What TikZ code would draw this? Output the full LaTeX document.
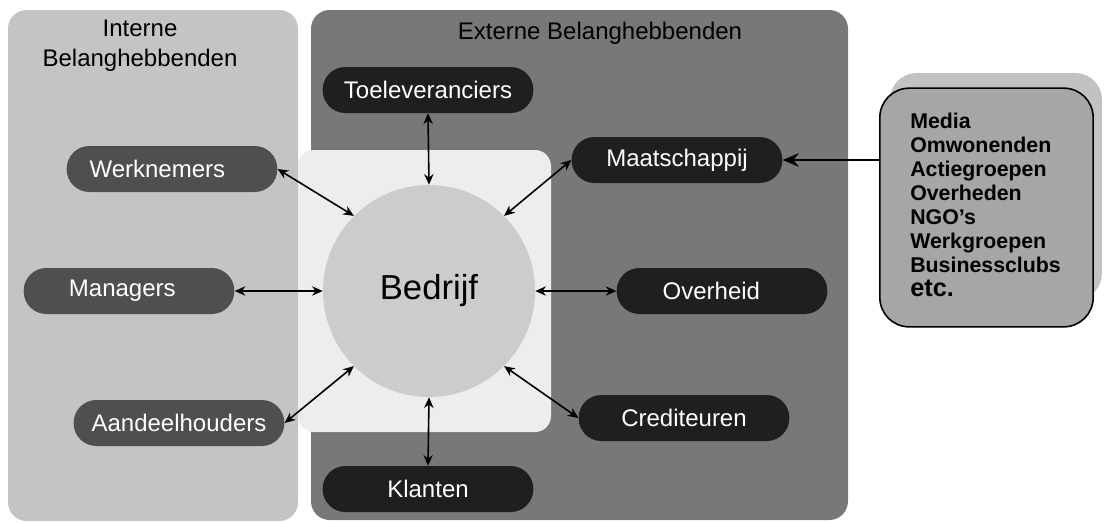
\documentclass[tikz,border=0pt]{standalone}
\usepackage{fontspec}
\setmainfont{Liberation Sans}
\usetikzlibrary{arrows.meta}
\definecolor{intpanel}{gray}{0.77}
\definecolor{extpanel}{gray}{0.47}
\definecolor{innerbg}{gray}{0.93}
\definecolor{circfill}{gray}{0.80}
\definecolor{intpill}{gray}{0.31}
\definecolor{extpill}{gray}{0.12}
\definecolor{mediafill}{gray}{0.65}
\definecolor{mediashadow}{gray}{0.76}
\tikzset{
  pill/.style={rectangle, rounded corners=17pt, minimum width=158pt, minimum height=34.5pt,
    text=white, font=\fontsize{18}{20}\selectfont, inner sep=0pt},
  intp/.style={pill, fill=intpill},
  extp/.style={pill, fill=extpill},
  title/.style={font=\fontsize{18}{22.5}\selectfont, align=center, text=black},
  conn/.style={{Stealth[length=8pt,width=7pt]}-{Stealth[length=8pt,width=7pt]}, line width=1.2pt, black},
  bigconn/.style={-{Stealth[length=12pt,width=10pt]}, line width=2.2pt, black},
}
\begin{document}
\begin{tikzpicture}[x=0.75pt,y=-0.75pt]
\useasboundingbox (0,0) rectangle (1106,522);
% panels
\fill[intpanel, rounded corners=14pt] (8,10) rectangle (298,521);
\fill[extpanel, rounded corners=14pt] (311,10) rectangle (848,520);
\fill[innerbg, rounded corners=12pt] (298,150) rectangle (551,432);
\node[circle, fill=circfill, minimum size=159pt, inner sep=0pt, font=\fontsize{26}{30}\selectfont] (bedrijf) at (429,291) {Bedrijf};
% titles
\node[title] (tint) at (140,46) {Interne\\Belanghebbenden};
\node[title] (text) at (600,33) {Externe Belanghebbenden};
% pills
\node[extp] (toe) at (428,90) {Toeleveranciers};
\node[intp] (werk) at (172,169) {Werknemers\kern 22pt};
\node[intp] (man) at (129,291) {Managers\kern 10pt};
\node[intp] (aan) at (179,423) {Aandeelhouders};
\node[extp] (kla) at (428,489) {Klanten};
\node[extp] (maat) at (677,160) {Maatschappij};
\node[extp] (over) at (722,291) {Overheid\kern 16pt};
\node[extp] (cred) at (684,418) {Crediteuren};
% connectors
\draw[conn] (toe.south) -- (bedrijf.north);
\draw[conn] (werk.east) -- (bedrijf.135);
\draw[conn] (man.east) -- (bedrijf.west);
\draw[conn] (aan.east) -- (bedrijf.-135);
\draw[conn] (kla.north) -- (bedrijf.south);
\draw[conn] (maat.west) -- (bedrijf.45);
\draw[conn] (over.west) -- (bedrijf.east);
\draw[conn] (cred.west) -- (bedrijf.-45);
% media box
\fill[mediashadow, rounded corners=20pt] (890,73) rectangle (1102,300);
\node[draw=black, line width=1.2pt, fill=mediafill, rounded corners=22pt, minimum width=160pt, minimum height=179pt, inner sep=0pt] (media) at (986.5,207.5) {};
\node[anchor=north west, align=left, inner sep=0pt, font=\fontsize{16}{18}\bfseries\selectfont] (mtext) at (910,113)
 {Media\\Omwonenden\\Actiegroepen\\Overheden\\NGO’s\\Werkgroepen\\Businessclubs\\{\fontsize{19}{18}\selectfont etc.}};
\draw[bigconn] (media.west |- maat.east) -- (maat.east);
\end{tikzpicture}
\end{document}
